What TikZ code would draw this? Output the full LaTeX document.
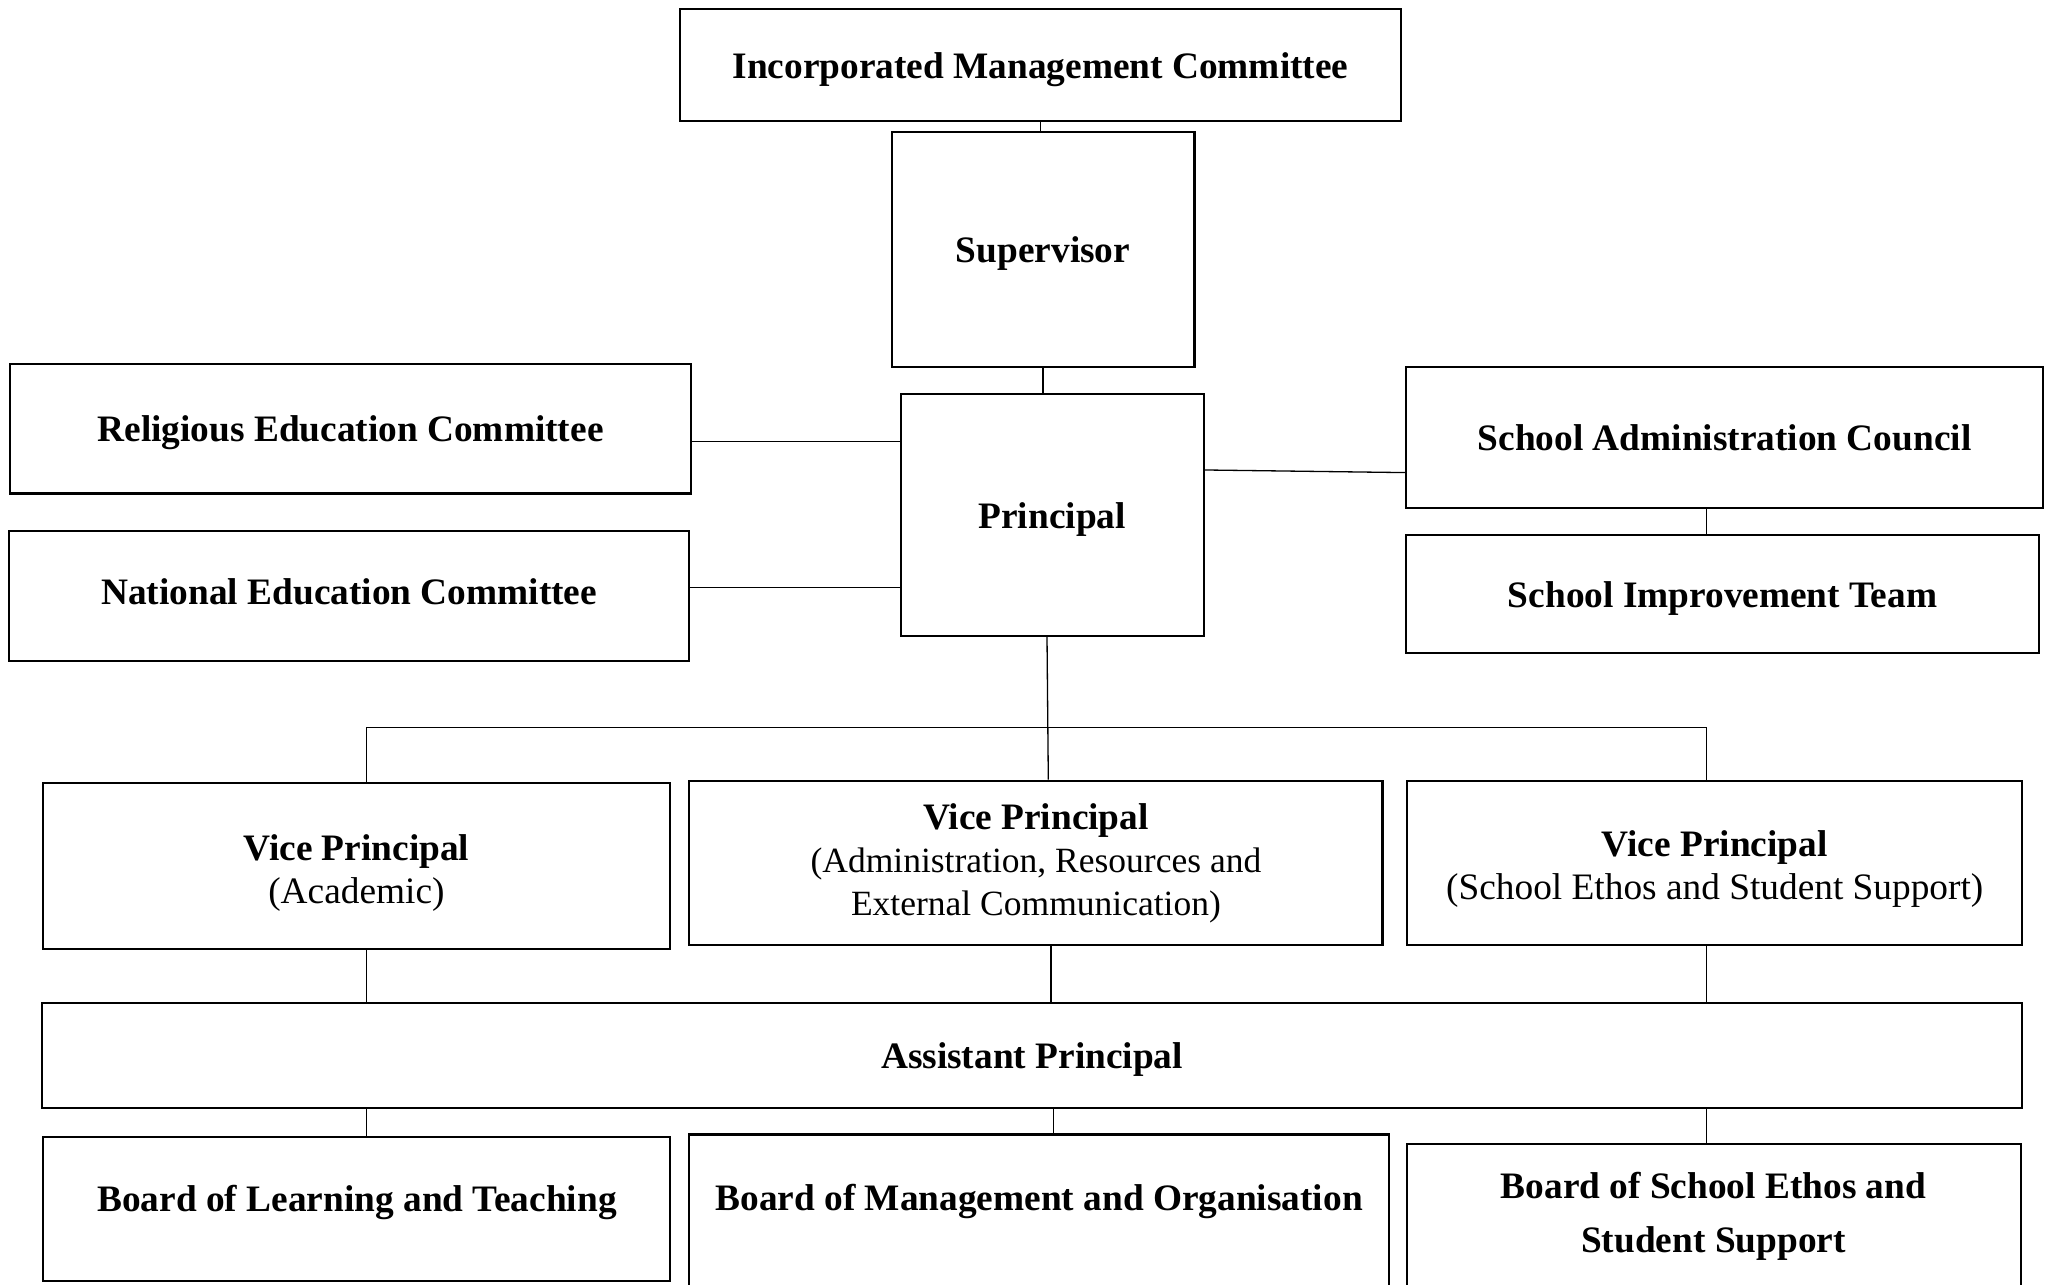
\documentclass[tikz,border=0pt]{standalone}
\usepackage{fontspec}
\setmainfont{Liberation Serif}
\usetikzlibrary{calc}
\begin{document}
\begin{tikzpicture}[x=0.5pt,y=-0.5pt,
  box/.style={draw, line width=0.8pt, inner sep=0pt, align=center,
    font=\fontsize{14.3}{16.5}\selectfont\bfseries, text height=1.0em, text depth=0pt},
  lbl/.style={inner sep=0pt, align=center,
    font=\fontsize{14.3}{16.5}\selectfont\bfseries, text height=1.0em, text depth=0pt},
  mlbl/.style={inner sep=0pt, align=center,
    font=\fontsize{14.3}{16.5}\selectfont\bfseries},
  conn/.style={line width=0.5pt}
]
\useasboundingbox (0,0) rectangle (1568,984.3);
\clip (0,0) rectangle (1568,984.3);

% boxes
\node[box, minimum width=276pt, minimum height=43pt] (imc) at (797,50) {Incorporated Management Committee};
\node[box, minimum width=116pt, minimum height=90pt] (sup) at (799,191) {Supervisor};
\node[box, minimum width=116pt, minimum height=92.5pt] (pr) at (806,394.5) {Principal};
\node[box, minimum width=260.5pt, minimum height=49.5pt] (rec) at (268.5,328.5) {Religious Education Committee};
\node[box, minimum width=260.5pt, minimum height=49.5pt] (nec) at (267.5,456.5) {};
\node[box, minimum width=244pt, minimum height=54pt] (sac) at (1321,335) {School Administration Council};
\node[box, minimum width=242.5pt, minimum height=45pt] (sit) at (1319.5,455) {School Improvement Team};
\node[box, minimum width=240pt, minimum height=63.5pt] (vpa) at (273,663.5) {};
\node[box, minimum width=265.5pt, minimum height=63pt] (vpb) at (793.5,661) {};
\node[box, minimum width=235.5pt, minimum height=63pt] (vps) at (1313.5,661) {};
\node[box, minimum width=758.5pt, minimum height=40.5pt] (ap) at (790.5,808.5) {Assistant Principal};
\node[box, minimum width=240pt, minimum height=55pt] (blt) at (273,926) {};
\node[box, minimum width=268pt, minimum height=70.5pt] (bmo) at (796,939.5) {};
\node[box, minimum width=235pt, minimum height=67pt] (bss) at (1313,943) {};

% texts of boxes whose text is not centred
\node[lbl] (nec-t) at (267.5,453) {National Education Committee};
\node[mlbl] (vpa-t) at (273,668.5) {Vice Principal\\\textmd{(Academic)}};
\node[mlbl] (vpb-t) at (793.5,661) {Vice Principal\\\fontsize{13.6}{16.5}\selectfont\textmd{(Administration, Resources and}\\\fontsize{13.6}{16.5}\selectfont\textmd{External Communication)}};
\node[mlbl] (vps-t) at (1313.5,666) {Vice Principal\\\textmd{(School Ethos and Student Support)}};
\node[lbl] (blt-t) at (273.5,918) {Board of Learning and Teaching};
\node[lbl] (bmo-t) at (796,917) {Board of Management and Organisation};
\node[mlbl] (bss-t) at (1312.5,931.5) {Board of School Ethos and\\[4pt]Student Support};

% helper coordinates
\coordinate (colL) at (281,0);
\coordinate (colR) at (1307,0);
\coordinate (colM1) at (805,0);
\coordinate (colM2) at (807,0);
\coordinate (pm1) at (802,0);
\coordinate (pm2) at (803,0);
\coordinate (busY) at (0,557);
\coordinate (yrec) at (0,338);
\coordinate (ynec) at (0,450);
\coordinate (ps1) at (0,360);
\coordinate (ps2) at (0,362);

% connectors
\draw[conn] (imc.south) -- (imc.south |- sup.north);
\draw[conn] (sup.south) -- (sup.south |- pr.north);
\draw[conn] (rec.east |- yrec) -- (pr.west |- yrec);
\draw[conn] (nec.east |- ynec) -- (pr.west |- ynec);
\draw[conn] (pr.east |- ps1) -- (sac.west |- ps2);
\draw[conn] (sac.south -| colR) -- (sit.north -| colR);
\draw[conn] (pr.south -| pm1) -- (vpb.north -| pm2);
\draw[conn] (vpa.north -| colL) -- (colL |- busY) -- (colR |- busY) -- (vps.north -| colR);
\draw[conn] (vpa.south -| colL) -- (ap.north -| colL);
\draw[conn] (vpb.south -| colM1) -- (ap.north -| colM1);
\draw[conn] (vps.south -| colR) -- (ap.north -| colR);
\draw[conn] (ap.south -| colL) -- (blt.north -| colL);
\draw[conn] (ap.south -| colM2) -- (bmo.north -| colM2);
\draw[conn] (ap.south -| colR) -- (bss.north -| colR);
\end{tikzpicture}
\end{document}
